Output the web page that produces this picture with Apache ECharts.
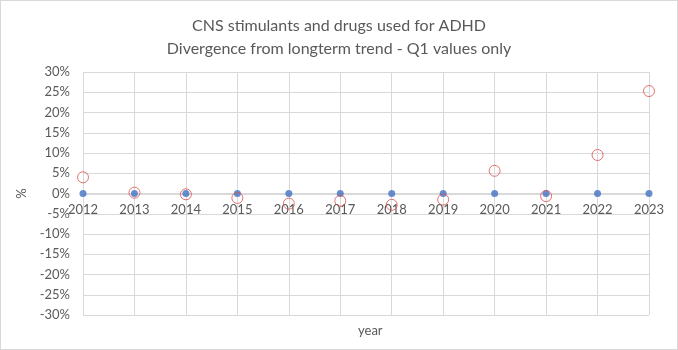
<!DOCTYPE html>
<html>
<head>
<meta charset="utf-8">
<script src="https://cdn.jsdelivr.net/npm/echarts@6/dist/echarts.min.js"></script>
<style>
    html, body { margin: 0; padding: 0; background: #fff; }
    #chart { width: 676px; height: 348px; border: 1px solid #d9d9d9; }
</style>
</head>
<body>
<div id="chart"></div>
<script>
const years = ['2012', '2013', '2014', '2015', '2016', '2017', '2018', '2019', '2020', '2021', '2022', '2023']
// long-term trend (always zero)
const trendValues = [0, 0, 0, 0, 0, 0, 0, 0, 0, 0, 0, 0]
// divergence of Q1 values, in %
const divergenceValues = [4.0, 0.2, -0.2, -1.1, -2.5, -1.8, -2.8, -1.5, 5.6, -0.65, 9.5, 25.3]

const titleLines = ['CNS stimulants and drugs used for ADHD', 'Divergence from longterm trend - Q1 values only']

const textColor = '#595959'
const fontFamily = "Lato, 'Liberation Sans', sans-serif"

const chart = echarts.init(document.getElementById('chart'))

const titleStyle = { color: textColor, fontSize: 16, fontWeight: 'normal', fontFamily: fontFamily }

const option = {
    animation: false,
    textStyle: { fontFamily: fontFamily },
    title: [
        { text: titleLines[0], left: 'center', top: 12, textStyle: titleStyle },
        { text: titleLines[1], left: 'center', top: 35, textStyle: titleStyle },
        {
            text: 'year',
            left: 352,
            top: 318,
            textStyle: { color: textColor, fontSize: 13, fontWeight: 'normal', fontFamily: fontFamily }
        }
    ],
    grid: { left: 82, right: 28, top: 71, bottom: 34 },
    xAxis: {
        type: 'category',
        data: years,
        boundaryGap: false,
        position: 'bottom',
        offset: -121,
        axisLine: { onZero: false, lineStyle: { color: '#d9d9d9' } },
        axisTick: { show: false },
        axisLabel: { color: textColor, fontSize: 13, margin: 9 },
        splitLine: { show: true, lineStyle: { color: '#d9d9d9' } }
    },
    yAxis: {
        type: 'value',
        min: -30,
        max: 30,
        interval: 5,
        name: '%',
        nameLocation: 'middle',
        nameGap: 54,
        nameRotate: 90,
        nameTextStyle: { color: textColor, fontSize: 13 },
        axisLine: { show: false },
        axisTick: { show: false },
        axisLabel: { color: textColor, fontSize: 13, margin: 13, formatter: '{value}%' },
        splitLine: { lineStyle: { color: '#d9d9d9' } }
    },
    series: [
        {
            type: 'scatter',
            data: trendValues,
            symbol: 'circle',
            symbolSize: 7,
            itemStyle: { color: '#4472c4' },
            z: 2
        },
        {
            type: 'scatter',
            data: divergenceValues,
            symbol: 'circle',
            symbolSize: 11,
            itemStyle: { color: 'rgba(255,255,255,0)', borderColor: '#d9534f', borderWidth: 1 },
            z: 3
        }
    ]
}

chart.setOption(option)
</script>
</body>
</html>
